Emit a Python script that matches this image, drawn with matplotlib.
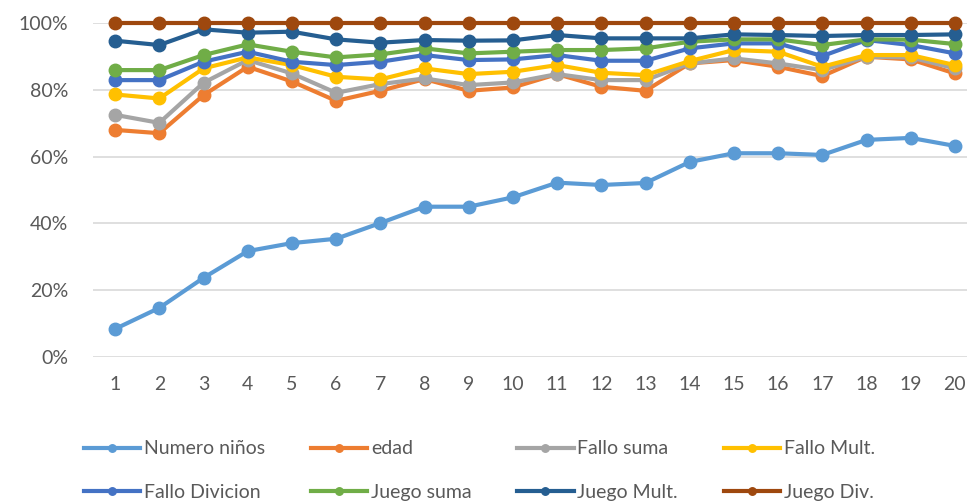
import matplotlib.pyplot as plt
from matplotlib.ticker import PercentFormatter

plt.rcParams['font.family'] = ['Lato', 'DejaVu Sans']

# x categories 1..20
groups = list(range(1, 21))

numero_ninos = [8.4, 14.7, 23.7, 31.7, 34.1, 35.4, 40.1, 45.0, 45.0, 47.8,
                52.2, 51.5, 52.1, 58.4, 61.0, 61.0, 60.5, 65.0, 65.6, 63.2]
edad = [68.0, 67.0, 78.4, 86.9, 82.5, 76.7, 79.7, 83.2, 79.7, 80.7,
        84.7, 80.9, 79.7, 87.9, 88.9, 86.9, 84.1, 89.9, 89.1, 84.9]
fallo_suma = [72.5, 70.1, 82.1, 88.9, 84.9, 79.1, 81.7, 83.4, 81.4, 82.2,
              84.7, 82.9, 82.9, 87.9, 89.4, 87.9, 85.9, 89.9, 89.7, 86.4]
fallo_mult = [78.6, 77.4, 86.4, 89.7, 87.4, 83.9, 83.1, 86.4, 84.7, 85.4,
              87.4, 85.1, 84.4, 88.6, 91.9, 91.4, 86.9, 90.4, 90.4, 87.4]
fallo_divicion = [82.9, 82.9, 88.4, 91.4, 88.4, 87.4, 88.4, 90.4, 88.9, 89.1,
                  90.4, 88.7, 88.7, 92.4, 93.9, 93.9, 90.1, 94.9, 93.4, 90.9]
juego_suma = [85.9, 85.9, 90.4, 93.6, 91.4, 89.7, 90.6, 92.4, 90.9, 91.4,
              91.9, 91.9, 92.4, 94.4, 95.1, 95.1, 93.4, 95.1, 95.0, 93.7]
juego_mult = [94.7, 93.4, 98.1, 97.1, 97.4, 95.1, 94.1, 94.9, 94.7, 94.8,
              96.4, 95.4, 95.4, 95.4, 96.6, 96.4, 96.1, 96.4, 96.4, 96.6]
juego_div = [100.0] * 20

series = [
    ("Numero niños", numero_ninos, "#5B9BD5"),
    ("edad", edad, "#ED7D31"),
    ("Fallo suma", fallo_suma, "#A5A5A5"),
    ("Fallo Mult.", fallo_mult, "#FFC000"),
    ("Fallo Divicion", fallo_divicion, "#4472C4"),
    ("Juego suma", juego_suma, "#70AD47"),
    ("Juego Mult.", juego_mult, "#255E91"),
    ("Juego Div.", juego_div, "#9E480E"),
]

fig = plt.figure(figsize=(9.67, 5.04), dpi=100)
ax = fig.add_axes([93 / 967, 147 / 504, 884 / 967, 334 / 504])

handles = []
for name, vals, col in series:
    h, = ax.plot(groups, vals, "-o", color=col, lw=3, ms=9, label=name,
                 solid_joinstyle="round", clip_on=False)
    handles.append(h)

ax.set_xlim(0.5, 20.5)
ax.set_ylim(0, 100)
ax.set_yticks(range(0, 101, 20))
ax.yaxis.set_major_formatter(PercentFormatter(decimals=0))
ax.set_xticks(groups)
ax.grid(axis="y", color="#D9D9D9", lw=1.2)
ax.set_axisbelow(True)
for s in ax.spines.values():
    s.set_visible(False)
ax.tick_params(length=0, labelsize=14, colors="#595959")
ax.tick_params(axis="x", pad=14)
ax.tick_params(axis="y", pad=18)

# Excel fills legend row by row; matplotlib fills column by column
order = [0, 4, 1, 5, 2, 6, 3, 7]
leg = fig.legend([handles[i] for i in order], [series[i][0] for i in order],
                 ncol=4, loc="lower left", bbox_to_anchor=(66 / 967, -0.028),
                 frameon=False, fontsize=14, handlelength=2.9,
                 handletextpad=0.2, columnspacing=2.35, labelspacing=1.35,
                 markerscale=0.6)
for t in leg.get_texts():
    t.set_color("#595959")

fig.savefig("out.png", dpi=100)
